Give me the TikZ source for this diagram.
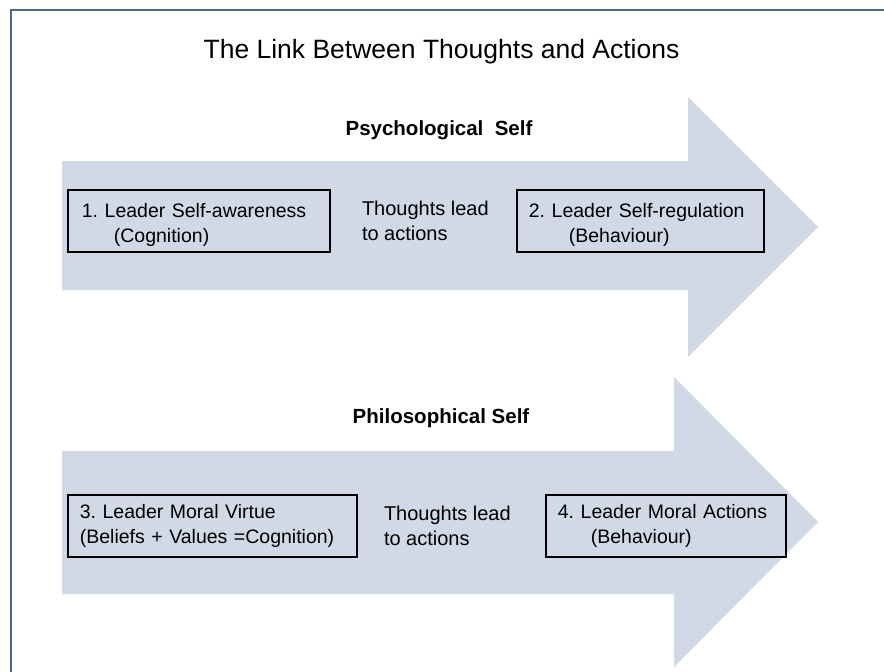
\documentclass[tikz,border=0pt]{standalone}
\usepackage{fontspec}
\setmainfont{Liberation Sans}
\usepackage{xcolor}
\definecolor{Slate}{HTML}{4E6990}
\definecolor{Mist}{HTML}{D1D9E6}
\colorlet{slate}{Slate}
\colorlet{mist}{Mist}
\usepackage{tikz}
\usetikzlibrary{positioning}

\newcommand{\rowlift}{\rule{0pt}{22pt}}
\tikzset{
  leadbox/.style={draw=black,line width=1.8pt,fill=mist,anchor=north west,inner xsep=12pt,minimum height=62pt,align=left,text width=#1},
  selfhead/.style={font=\frenchspacing\bfseries\fontsize{20.5}{24}\selectfont},
}

\begin{document}
\begin{tikzpicture}[x=1pt,y=-1pt, every node/.style={font=\frenchspacing\fontsize{19.5}{25}\selectfont,align=left}]
\useasboundingbox[fill=white] (0,0) rectangle (884,672);
\draw[slate,line width=2.6pt] (11,672) -- (11,10) -- (884,10);
% the two big arrows
\fill[mist] (62,161) -- (688,161) -- (688,97) -- (818,227) -- (688,357) -- (688,290) -- (62,290) -- cycle;
\fill[mist] (62,451) -- (674,451) -- (674,377) -- (818,522) -- (674,667) -- (674,594) -- (62,594) -- cycle;
\node[font=\fontsize{26.5}{30}\selectfont] (title) at (441.5,52) {The Link Between Thoughts and Actions};
\node[selfhead] (psy) at (439,130) {Psychological\ \ Self};
\node[selfhead] (phi) at (441,418) {Philosophical Self};
% psychological row
\node[leadbox=238pt] (b1) at (67,189) {\rowlift\hspace*{2pt}1. Leader Self-awareness\\\hspace*{34pt}(Cognition)};
\node[anchor=west,inner sep=0,right=31pt of b1,font=\fontsize{20}{25}\selectfont] (m1) {Thoughts lead\\to actions};
\node[leadbox=223pt] (b2) at (516,189) {\rowlift 2. Leader Self-regulation\\\hspace*{40pt}(Behaviour)};
% philosophical row
\node[leadbox=265pt] (b3) at (67,494) {3. Leader Moral Virtue\\(Beliefs + Values =Cognition)};
\node[anchor=west,inner sep=0,right=26pt of b3,font=\fontsize{20}{25}\selectfont] (m2) {Thoughts lead\\to actions};
\node[leadbox=216pt] (b4) at (545,494) {4. Leader Moral Actions\\\hspace*{33pt}(Behaviour)};
\end{tikzpicture}
\end{document}
